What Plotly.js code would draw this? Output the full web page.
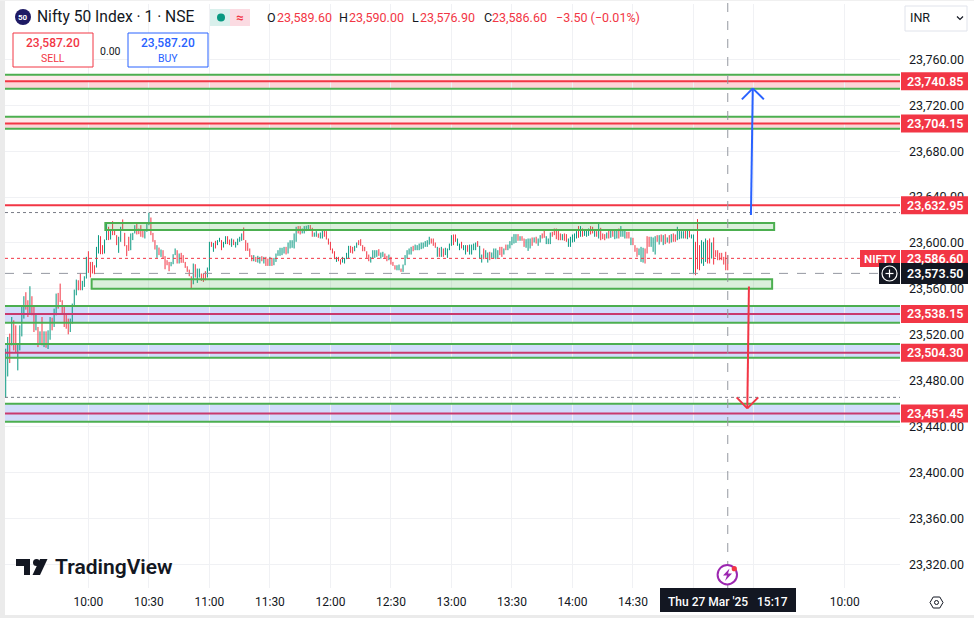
<!DOCTYPE html>
<html><head><meta charset="utf-8">
<script src="https://cdn.plot.ly/plotly-3.0.1.min.js"></script>
<style>html,body{margin:0;padding:0;background:#fff}#c{width:974px;height:618px}</style></head>
<body><div id="c"></div>
<script>
// 1-minute bars of 27 Mar 2025 from 09:19 (prices)
const highs = [
23506.3,23516.5,23519.4,23533.9,23531,23526.6,23510.6,23526.6,23542.6,23552,
23555.5,23548.5,23560.7,23552,23544.1,23536.3,23525.2,23521.4,23533.9,23521.4,
23521.4,23522.3,23533.9,23533.3,23541.2,23554.3,23554.9,23563,23548.5,23544.1,
23536.3,23532.5,23532.5,23545.6,23557.8,23566.5,23565.9,23572.3,23565.4,23569.4,
23586.3,23591.2,23581.9,23581.9,23579,23595,23605.2,23604.3,23596.5,23601.4,
23615.4,23612.5,23610.2,23617.4,23610.2,23605.2,23603.8,23612.5,23618.9,23607.2,
23596.5,23603.8,23606.7,23607.2,23613.9,23615.4,23611,23613.9,23609.6,23609,
23616.3,23624.7,23620.6,23607.2,23600.9,23596.5,23594.4,23592.7,23592.1,23586.9,
23583.4,23581.9,23581.9,23588.6,23593.6,23592.1,23589.2,23589.8,23587.8,23581.9,
23578.1,23575.2,23569.4,23580.5,23579.9,23576.1,23576.1,23571.8,23571.8,23573.8,
23577,23599.4,23599.4,23598.5,23600.3,23600.9,23602.9,23600.9,23599.4,23604.3,
23604.3,23601.4,23602.3,23601.4,23599.4,23602.3,23603.8,23606.7,23611.9,23600.9,
23598.5,23593.6,23587.8,23587.8,23586.3,23587.2,23586.3,23586.9,23586.3,23586.3,
23584.8,23586.3,23585.4,23585.4,23589.2,23592.1,23594.2,23594.2,23595,23595,
23598.8,23600.8,23600.8,23606.7,23612.5,23613.1,23613.1,23611,23613.1,23613.4,
23614,23614,23611.6,23607.5,23608.7,23606.7,23607.5,23609.6,23609.6,23608.7,
23602.3,23599.4,23593.6,23591.2,23586.3,23586.3,23584.3,23586.3,23585.4,23589.8,
23595.9,23595.9,23595,23595.9,23598.8,23600.8,23601.7,23596.5,23595,23591.2,
23588.3,23586.3,23592.1,23592.1,23592.1,23593,23590.1,23590.7,23589.2,23587.2,
23588.3,23586.3,23581.9,23579,23579,23579.6,23576.1,23579.6,23587.8,23592.1,
23593.6,23595,23595.9,23597,23596.5,23597.9,23598.8,23598.8,23600,23600.8,
23603.8,23602.3,23602.3,23598.8,23595,23594.2,23595,23593.6,23594.2,23593.6,
23597.9,23605.2,23605.8,23605.8,23602.3,23597.9,23599.4,23596.5,23596.5,23596.5,
23597,23597,23597.9,23598.8,23600,23595.9,23588.3,23593.6,23592.1,23590.1,
23590.7,23590.1,23593.6,23593.6,23592.1,23595,23595,23593.6,23597,23597,
23600,23603.8,23606.1,23606.1,23606.1,23604.3,23604.3,23602.3,23601.7,23602.3,
23602.3,23603.2,23603.2,23603.8,23602.3,23605.2,23606.7,23609.6,23604.3,23602.3,
23607.5,23608.1,23611,23611,23609.6,23606.7,23606.1,23606.7,23606.1,23602.3,
23603.8,23605.8,23606.7,23608.7,23613.1,23613.1,23611,23610.4,23609.6,23611,
23613.1,23612.5,23609.6,23608.7,23615.4,23611.6,23606.7,23606.1,23607.5,23610.4,
23610.4,23610.4,23609.6,23610.4,23611,23613.1,23609.6,23609.6,23608.1,23608.1,
23603.2,23602.9,23596.5,23594.2,23593.6,23595,23594.2,23593.6,23604.3,23603.8,
23603.8,23603.2,23604.3,23605.2,23605.2,23605.8,23605.2,23606.1,23603.2,23605.2,
23606.1,23606.7,23605.8,23612.5,23609.6,23608.7,23608.7,23609.6,23609.6,23609.6,
23605.8,23605.8,23599.4,23619.2,23596.5,23600.8,23599.4,23602.3,23600.8,23602.3,
23598.8,23603.2,23592.1,23592.1,23589.8,23589.8,23586.3,23590.7,23587.8];
const lows = [
23463.5,23482.1,23493.8,23509.2,23504.8,23503.4,23487.4,23504.8,23517,23532.5,
23540.3,23533.9,23536.8,23535.4,23520.8,23522.3,23507.7,23511.2,23509.2,23507.7,
23507.1,23506,23514.1,23522.3,23525.2,23535.4,23541.2,23547,23537.4,23525.2,
23523.7,23518.8,23520.8,23528.1,23542.6,23552.8,23557.2,23557.2,23557.2,23560.1,
23567.4,23572.3,23568.3,23571.8,23571.2,23577,23589.2,23588.6,23588.6,23589.2,
23600.9,23600.9,23601.4,23605.2,23605.2,23596.5,23589.8,23599.4,23609.6,23595.6,
23586.9,23591.5,23592.1,23600.9,23606.7,23605.8,23606.1,23603.8,23603.2,23602.3,
23608.1,23613.9,23605.2,23599.4,23592.7,23585.4,23587.8,23586.3,23584.8,23575.5,
23579,23573.8,23578.1,23579.9,23587.8,23580.5,23580.5,23581.1,23581.1,23576.7,
23573.2,23569.4,23558.4,23562.4,23568.3,23563.6,23568.3,23565.4,23564.5,23565.9,
23568.3,23574.1,23595,23590.7,23593.6,23596.5,23599.4,23592.1,23594.4,23597.4,
23597.4,23596.5,23595,23596.5,23594.4,23596.5,23599.4,23600.3,23600.9,23591.5,
23591.5,23586.3,23582.5,23582.5,23581.9,23581.3,23580.5,23582.5,23580.5,23578.4,
23578.4,23578.4,23578.4,23579,23581.9,23587.2,23587.2,23587.8,23589.2,23588.4,
23589.2,23593.6,23594.2,23593.6,23599.4,23606.7,23605.8,23606.7,23606.7,23608.7,
23609.6,23609.6,23603.8,23603.8,23603.8,23602.9,23602.3,23602.3,23603.8,23601.4,
23597,23592.1,23589.2,23584.3,23581.9,23582.5,23579.6,23581.3,23580.5,23584.3,
23584.8,23589.8,23589.2,23591.2,23594.2,23596.5,23595.9,23591.2,23591.2,23585.4,
23582.5,23581.3,23584.8,23585.4,23586.3,23587.2,23584.8,23586.3,23584.8,23582.5,
23583.4,23579.6,23578.4,23575.2,23574.6,23574.6,23573.2,23573.2,23579,23584.8,
23588.3,23588.3,23591.2,23592.1,23592.1,23592.1,23593,23593.6,23595,23595,
23597,23597.9,23595.9,23594.2,23586.3,23586.3,23586.3,23586.3,23587.8,23585.4,
23592.1,23595.9,23596.5,23599.4,23595.9,23592.1,23593.6,23592.1,23588.3,23590.7,
23588.3,23588.3,23592.1,23592.1,23595,23584.8,23581.3,23584.3,23585.4,23581.3,
23583.4,23585.4,23584.8,23584.3,23585.4,23587.8,23586.3,23588.3,23592.1,23592.1,
23593.6,23596.5,23597.9,23598.5,23600.3,23600.3,23600.3,23595,23594.2,23591.5,
23593.6,23595.9,23598.8,23597.9,23595.9,23598.8,23602.3,23602.9,23597.4,23597.4,
23597.4,23603.8,23605.2,23601.7,23600.8,23600.8,23600.8,23600.3,23599.4,23595,
23595,23598.8,23599.4,23602.3,23602.9,23603.8,23603.8,23604.6,23603.8,23604.6,
23605.8,23606.7,23603.8,23603.8,23602.3,23600.8,23601.7,23600.8,23602.3,23602.3,
23602.9,23603.8,23601.7,23602.3,23602.3,23603.8,23603.8,23602.3,23602.3,23602.3,
23596.5,23596.5,23590.7,23586.3,23587.8,23581.9,23581.3,23580.5,23589.2,23595,
23595,23590.7,23588.3,23599.4,23597,23599.4,23596.5,23597.4,23598.8,23597.9,
23598.8,23599.4,23599.4,23600.8,23601.7,23602.3,23602.3,23602.3,23601.7,23603.2,
23602.3,23571.2,23570.3,23575.5,23574.6,23580.5,23578.4,23581.9,23580.5,23580.5,
23584.8,23579.6,23586.3,23583.4,23583.4,23583.4,23579.6,23574.6,23574.6];
const dirs = ("GGRGRRGGGG RRGRRGRGRG RGGRGGRRRR RRGGGGRRGG GRRRRGGRRG GRGRRRGGRR RRGGGRRRRG GGRRRGRGRR "+
"RRGGGRGRRR RRRGRGGRRR GGRGRGGRGG RRGRGGGGRR RR"+
"RGRGGRGR RGRGGGGGGR GGGGGRRGGG GRRGGRGGRR RRRRGRRGGG GRRGGRRRRR RGGGGRGGRR GRRRGGRGGG "+
"GGRGGGGGGG GRRRGRGRGG GGRRGGRGGR GGGGRGGRGG RGGGGRRGRG "+
"GGGGRGRRGG GRGRGGRRGG GRRRRRGRRG GGGGRGRGGG RRGRGRRRGR GRGGRGGGRR GRRRGGGRRR GGGRGRGRGR "+
"GRRGGGGRGR GGRRRGGGRRG").replace(/ /g,"");
// price reading correction found from the gridlines
const readOffset = 1.6;
const tickMinutes = [41,71,101,131,161,191,221,251,281,311,341,371,416];
const tickLabels = ["10:00","10:30","11:00","11:30","12:00","12:30","13:00","13:30","14:00","14:30","","","10:00"];
const priceTicks = [23320,23360,23400,23440,23480,23520,23560,23600,23640,23680,23720,23760];
const zoneLevels = [23740.85,23704.15,23538.15,23504.30,23451.45];
const zoneTops = [23746.6,23710,23545,23512,23460];
const zoneBottoms = [23734.4,23699.5,23530.5,23500,23444.2];
const resistance = 23632.95, lastPrice = 23586.60, crossPrice = 23573.50, dayHigh = 23626.5, dayLow = 23465.5, crossMinute = 358;

const W=974,H=618,L=5,R=900,T=4,B=588;
const px=x=>(x-L)/(R-L), py=y=>1-(y-T)/(B-T);
const xEnd=[-0.35,443.4], yEnd=[23299.4,23808.2];
const RED='#f23645',GRN='#089981',ZG='#4caf50',DK='#131722',BL='#2962ff',FONT='Roboto, Arial, sans-serif';
const xs=highs.map((_,i)=>i);
const hi=highs.map(v=>v+readOffset), lo=lows.map(v=>v+readOffset);
const op=hi.map((v,i)=>dirs[i]==='G'?lo[i]:v), cl=hi.map((v,i)=>dirs[i]==='G'?v:lo[i]);

const shapes=[];
const rectP=(x0,y0,x1,y1,fill,line,lw)=>shapes.push({type:'rect',xref:'paper',yref:'paper',x0:px(x0),x1:px(x1),y0:py(y0),y1:py(y1),fillcolor:fill,line:{color:line||'rgba(0,0,0,0)',width:lw||0}});
const hl=(p,x1m,c,w,d)=>shapes.push({type:'line',xref:'x',yref:'y',x0:xEnd[0],x1:x1m,y0:p,y1:p,line:{color:c,width:w,dash:d||'solid'}});
const seg=(a,b,c,d,col,w)=>shapes.push({type:'line',xref:'x',yref:'y',x0:a,y0:b,x1:c,y1:d,line:{color:col,width:w}});
const pathP=(pts,fill,line,lw,close)=>shapes.push({type:'path',xref:'paper',yref:'paper',path:'M'+pts.map(q=>px(q[0])+','+py(q[1])).join('L')+(close?'Z':''),fillcolor:fill||'rgba(0,0,0,0)',line:{color:line||'rgba(0,0,0,0)',width:lw||0}});
const circ=(cx,cy,r,fill,line,lw)=>shapes.push({type:'circle',xref:'paper',yref:'paper',x0:px(cx-r),x1:px(cx+r),y0:py(cy-r),y1:py(cy+r),fillcolor:fill,line:{color:line||'rgba(0,0,0,0)',width:lw||0}});
function guessX(x){return (x-5.7)/2.017;}

// zones
zoneLevels.forEach((lv,i)=>{
  const top=i<2, fillU=top?'#fdeaec':'#d1dcfb', fillL=top?'#fcd5d8':'#d1dcfb', lc=top?RED:'#c93a6e';
  shapes.push({type:'rect',xref:'x',yref:'y',x0:xEnd[0],x1:xEnd[1],y0:lv,y1:zoneTops[i],fillcolor:fillU,line:{width:0},layer:'below'});
  shapes.push({type:'rect',xref:'x',yref:'y',x0:xEnd[0],x1:xEnd[1],y0:zoneBottoms[i],y1:lv,fillcolor:fillL,line:{width:0},layer:'below'});
  hl(zoneTops[i],xEnd[1],ZG,2); hl(zoneBottoms[i],xEnd[1],ZG,2); hl(lv,xEnd[1],lc,2);
});
hl(resistance,xEnd[1],RED,2);
hl(dayHigh,xEnd[1],'#787b86',1,'dot'); hl(dayLow,xEnd[1],'#787b86',1,'dot');
hl(lastPrice,guessX(860),RED,1,'dot'); hl(crossPrice,guessX(880),'#9598a1',1,'dash');
// consolidation boxes
shapes.push({type:'rect',xref:'x',yref:'y',x0:49.4,x1:381,y0:23611.3,y1:23617.4,fillcolor:'rgba(76,175,80,0.2)',line:{color:ZG,width:2}});
shapes.push({type:'rect',xref:'x',yref:'y',x0:42.6,x1:380,y0:23560.1,y1:23568.5,fillcolor:'rgba(76,175,80,0.2)',line:{color:ZG,width:2}});
// crosshair
shapes.push({type:'line',xref:'x',yref:'paper',x0:crossMinute,x1:crossMinute,y0:py(B),y1:py(0),line:{color:'#9598a1',width:1,dash:'dash'}});
// arrows
seg(369.5,23624.3,370.4,23734.7,BL,2); seg(365,23725.1,370.4,23734.7,BL,2); seg(375.9,23725.1,370.4,23734.7,BL,2);
seg(368.5,23562,367.7,23455.9,RED,2); seg(362.4,23465.5,367.7,23455.9,RED,2); seg(373.1,23465.5,367.7,23455.9,RED,2);
// frame
rectP(0,0,5,618,'#ebebeb'); rectP(0,615,974,618,'#ebebeb'); rectP(0,0,974,1,'#f0f0f0');
// header decorations
circ(23,17,8,'#1e1a64');
shapes.push({type:'rect',xref:'paper',yref:'paper',x0:px(210),x1:px(230),y0:py(9),y1:py(26),fillcolor:'#d9f0ec',line:{width:0}});
shapes.push({type:'rect',xref:'paper',yref:'paper',x0:px(230),x1:px(250),y0:py(9),y1:py(26),fillcolor:'#fbdbe2',line:{width:0}});
circ(221,17.5,4,GRN);
rectP(13,33,93,67,'#ffffff',RED,1); rectP(128,33,208,67,'#ffffff',BL,1);
rectP(905,6,967,31,'#ffffff','#e0e3eb',1);
pathP([[957,16.5],[960,19.5],[963,16.5]],null,DK,1.2);
// price tags
zoneLevels.concat([resistance]).forEach(v=>{const y=T+(yEnd[1]-v)/(yEnd[1]-yEnd[0])*(B-T); rectP(901,y-9,968,y+9,RED);});
rectP(901,250,968,267,RED); rectP(860,250,900,267,RED);
rectP(879,263,900,284,DK); rectP(901,263,968,284,DK);
circ(889.5,273.5,7.5,'rgba(0,0,0,0)','#ffffff',1.2);
pathP([[885.5,273.5],[893.5,273.5]],null,'#ffffff',1.2); pathP([[889.5,269.5],[889.5,277.5]],null,'#ffffff',1.2);
// time tag
rectP(660,588,796,612,DK);
// lightning icon
circ(727.3,574.7,9.7,'#ffffff','#9c27b0',2);
pathP([[729.5,568.5],[723,575.5],[727,575.5],[725,581],[732,573.5],[728,573.5]],'#9c27b0',null,0,true);
circ(734.3,568.7,2.6,RED);
// settings hexagon
pathP([[930,602.5],[933.2,597],[939.8,597],[943,602.5],[939.8,608],[933.2,608]],null,DK,1,true);
circ(936.5,602.5,2,'rgba(0,0,0,0)',DK,1);
// TV logo
pathP([[16,559],[30,559],[30,575],[24,575],[24,566],[16,566]],DK,null,0,true);
circ(36.5,562.5,3.5,DK);
pathP([[40,559],[47.5,559],[40,575],[32.5,575]],DK,null,0,true);

const ann=[];
const txt=(x,y,t,o={})=>ann.push({xref:'paper',yref:'paper',x:px(x),y:py(y),text:t,showarrow:false,xanchor:o.a||'left',yanchor:'middle',
  font:{family:FONT,size:o.s||12,color:o.c||DK,weight:o.w||400},borderpad:0});
txt(23,17,'50',{a:'center',s:8,c:'#fff',w:700});
txt(36,17,'Nifty 50 Index · 1 · NSE',{s:15.6});
txt(240,17,'≈',{a:'center',s:13,c:RED,w:700});
txt(266,17,'O',{s:12.5}); txt(276,17,'23,589.60',{s:12.5,c:RED});
txt(338,17,'H',{s:12.5}); txt(348,17,'23,590.00',{s:12.5,c:RED});
txt(411,17,'L',{s:12.5}); txt(419,17,'23,576.90',{s:12.5,c:RED});
txt(483,17,'C',{s:12.5}); txt(491,17,'23,586.60',{s:12.5,c:RED});
txt(555,17,'−3.50 (−0.01%)',{s:12.5,c:RED});
txt(53,43,'23,587.20',{a:'center',s:12,c:RED,w:500}); txt(53,58,'SELL',{a:'center',s:10.5,c:RED});
txt(168,43,'23,587.20',{a:'center',s:12,c:BL,w:500}); txt(168,58,'BUY',{a:'center',s:10.5,c:BL});
txt(110,51,'0.00',{a:'center',s:10.5});
txt(909,18,'INR',{s:12.5});
txt(54,567,'TradingView',{s:21,w:600});
zoneLevels.concat([resistance]).forEach(v=>{const y=T+(yEnd[1]-v)/(yEnd[1]-yEnd[0])*(B-T);
  txt(934.5,y,v.toLocaleString('en-US',{minimumFractionDigits:2}),{a:'center',c:'#fff',w:600,s:12.5});});
txt(880,258.5,'NIFTY',{a:'center',c:'#fff',w:600,s:11.5});
txt(934.5,258.5,lastPrice.toLocaleString('en-US',{minimumFractionDigits:2}),{a:'center',c:'#fff',w:600,s:12.5});
txt(934.5,273.5,crossPrice.toLocaleString('en-US',{minimumFractionDigits:2}),{a:'center',c:'#fff',w:600,s:12.5});
txt(728,602,"Thu 27 Mar '25   15:17",{a:'center',c:'#fff',w:500,s:12});

Plotly.newPlot('c',[{
  type:'ohlc',x:xs,open:op,high:hi,low:lo,close:cl,tickwidth:0,
  increasing:{line:{color:GRN,width:1}},decreasing:{line:{color:RED,width:1}},hoverinfo:'skip',showlegend:false
}],{
  width:W,height:H,margin:{l:L,r:W-R,t:T,b:H-B,pad:0},
  paper_bgcolor:'#fff',plot_bgcolor:'#fff',showlegend:false,
  font:{family:FONT,size:12,color:DK},
  xaxis:{type:'linear',range:xEnd,tickmode:'array',tickvals:tickMinutes,ticktext:tickLabels,showgrid:true,gridcolor:'#f0f1f4',gridwidth:1,
    zeroline:false,showline:false,ticks:'',rangeslider:{visible:false},tickfont:{size:12,color:DK,family:FONT},ticklabelstandoff:5},
  yaxis:{range:yEnd,side:'right',tickmode:'array',tickvals:priceTicks,ticktext:priceTicks.map(v=>v.toLocaleString('en-US',{minimumFractionDigits:2})),
    showgrid:true,gridcolor:'#f0f1f4',gridwidth:1,zeroline:false,showline:false,ticks:'',tickfont:{size:12.5,color:DK,family:FONT},ticklabelstandoff:8,ticklabelshift:1.5},
  shapes:shapes,annotations:ann
},{displayModeBar:false,responsive:false});
</script></body></html>
